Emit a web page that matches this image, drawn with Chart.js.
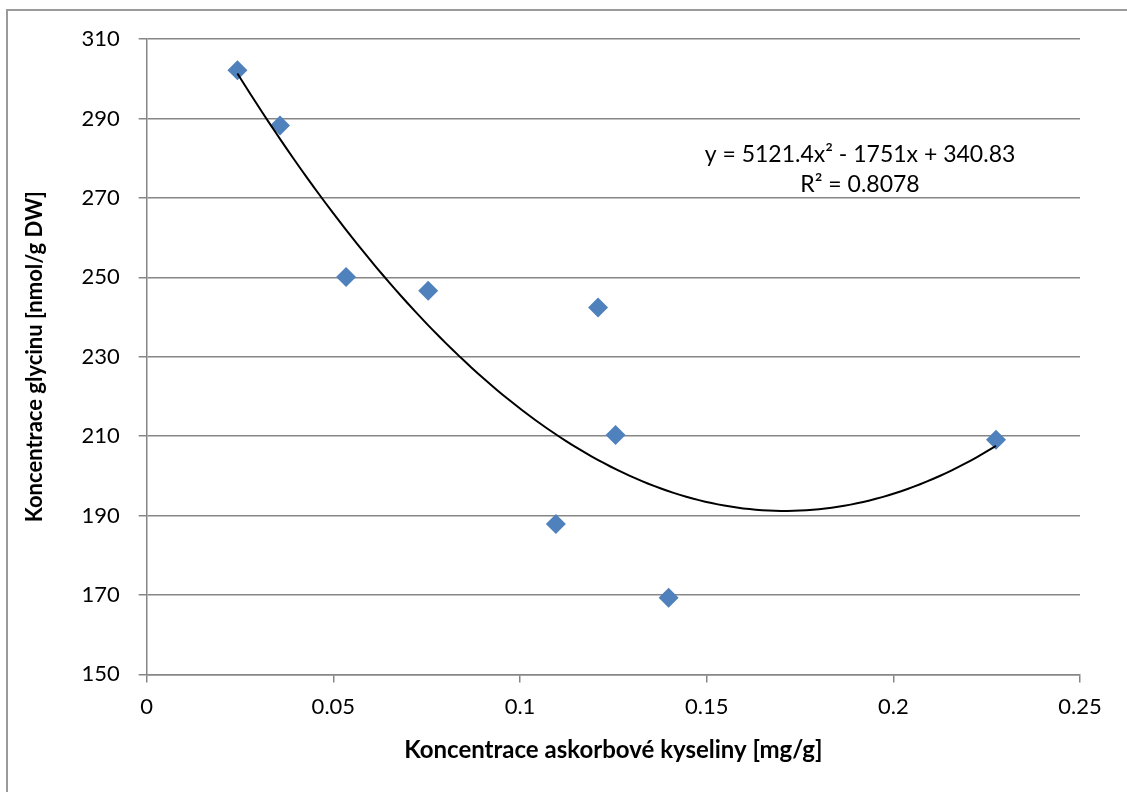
<!DOCTYPE html>
<html>
<head>
<meta charset="utf-8">
<script src="https://cdn.jsdelivr.net/npm/chart.js@4/dist/chart.umd.min.js"></script>
<style>
  html, body { margin: 0; padding: 0; background: #fff; }
  #wrap { width: 1127px; height: 792px; }
</style>
</head>
<body>
<div id="wrap"><canvas id="scatterChart" width="1127" height="792"></canvas></div>
<script>
// Ascorbic acid vs. glycine measurements
const ascorbicAcid = [0.0243, 0.0357, 0.0534, 0.0754, 0.1209, 0.1256, 0.1096, 0.1398, 0.2275];
const glycine = [302.1, 288.2, 250.1, 246.6, 242.4, 210.3, 187.9, 169.3, 209.1];

// Polynomial trendline y = a*x^2 + b*x + c
const trendCoef = [5121.4, -1751, 340.83];
const trendLabel = ['y = 5121.4x\u00B2 - 1751x + 340.83', 'R\u00B2 = 0.8078'];

const xTickLabels = ['0', '0.05', '0.1', '0.15', '0.2', '0.25'];
const yTickLabels = ['150', '170', '190', '210', '230', '250', '270', '290', '310'];

const gridColor = '#868686';
const fontFamily = 'Lato, "Open Sans", sans-serif';

// curve points along the fitted polynomial, between the outermost measurements
const xMin = Math.min(...ascorbicAcid), xMax = Math.max(...ascorbicAcid);
const trendPoints = [];
for (let i = 0; i <= 120; i++) {
    const x = xMin + (xMax - xMin) * i / 120;
    trendPoints.push({ x: x, y: trendCoef[0] * x * x + trendCoef[1] * x + trendCoef[2] });
}

// grey frame round the chart + trendline equation text
const framePlugin = {
    id: 'frame',
    beforeDraw(chart) {
        const ctx = chart.ctx;
        ctx.save();
        ctx.fillStyle = '#fff';
        ctx.fillRect(0, 0, chart.width, chart.height);
        ctx.strokeStyle = '#9a9a9a';
        ctx.lineWidth = 2;
        ctx.strokeRect(7, 10, chart.width + 20, chart.height + 20);
        ctx.restore();
    },
    afterDraw(chart) {
        const ctx = chart.ctx;
        ctx.save();
        ctx.font = '23px ' + fontFamily;
        ctx.fillStyle = '#000';
        ctx.textAlign = 'center';
        ctx.textBaseline = 'middle';
        ctx.fillText(trendLabel[0], 860, 155);
        ctx.fillText(trendLabel[1], 860, 185);
        ctx.restore();
    }
};

const ctx = document.getElementById('scatterChart').getContext('2d');
new Chart(ctx, {
    type: 'scatter',
    data: {
        datasets: [{
            label: 'Polynom',
            data: trendPoints,
            showLine: true,
            borderColor: '#000',
            borderWidth: 2,
            pointRadius: 0,
            tension: 0
        }, {
            label: 'Glycin',
            data: ascorbicAcid.map((x, i) => ({ x: x, y: glycine[i] })),
            pointStyle: 'rectRot',
            pointRadius: 10,
            pointHoverRadius: 10,
            backgroundColor: '#4F81BD',
            borderColor: '#4F81BD',
            borderWidth: 0
        }]
    },
    options: {
        responsive: false,
        animation: false,
        layout: { padding: { left: 0, top: 39, right: 47, bottom: 0 } },
        plugins: {
            legend: { display: false },
            tooltip: { enabled: false }
        },
        scales: {
            x: {
                type: 'linear',
                min: 0,
                max: 0.25,
                afterFit(scale) { scale.height = 117.6; },
                afterBuildTicks(scale) {
                    scale.ticks = xTickLabels.map(t => ({ value: parseFloat(t) }));
                },
                ticks: {
                    autoSkip: false,
                    maxRotation: 0,
                    padding: 11,
                    color: '#000',
                    font: { family: fontFamily, size: 22 },
                    callback: (v, i) => xTickLabels[i]
                },
                grid: {
                    drawOnChartArea: false,
                    drawTicks: true,
                    tickLength: 8,
                    color: gridColor,
                    lineWidth: 1.5
                },
                border: { display: true, color: gridColor, width: 1.5 },
                title: {
                    display: true,
                    text: 'Koncentrace askorbové kyseliny [mg/g]',
                    color: '#000',
                    font: { family: fontFamily, size: 24, weight: 'bold' },
                    padding: { top: 0, bottom: 27 }
                }
            },
            y: {
                type: 'linear',
                min: 150,
                max: 310,
                afterFit(scale) { scale.width = 146.7; },
                afterBuildTicks(scale) {
                    scale.ticks = yTickLabels.map(t => ({ value: parseFloat(t) }));
                },
                ticks: {
                    padding: 19,
                    color: '#000',
                    font: { family: fontFamily, size: 22 },
                    callback: (v, i) => yTickLabels[i]
                },
                grid: {
                    drawTicks: true,
                    tickLength: 8,
                    color: gridColor,
                    lineWidth: 1.5
                },
                border: { display: true, color: gridColor, width: 1.5 },
                title: {
                    display: true,
                    text: 'Koncentrace glycinu [nmol/g DW]',
                    color: '#000',
                    font: { family: fontFamily, size: 22, weight: 'bold' },
                    padding: { top: 22, bottom: 0 }
                }
            }
        }
    },
    plugins: [framePlugin]
});
</script>
</body>
</html>
